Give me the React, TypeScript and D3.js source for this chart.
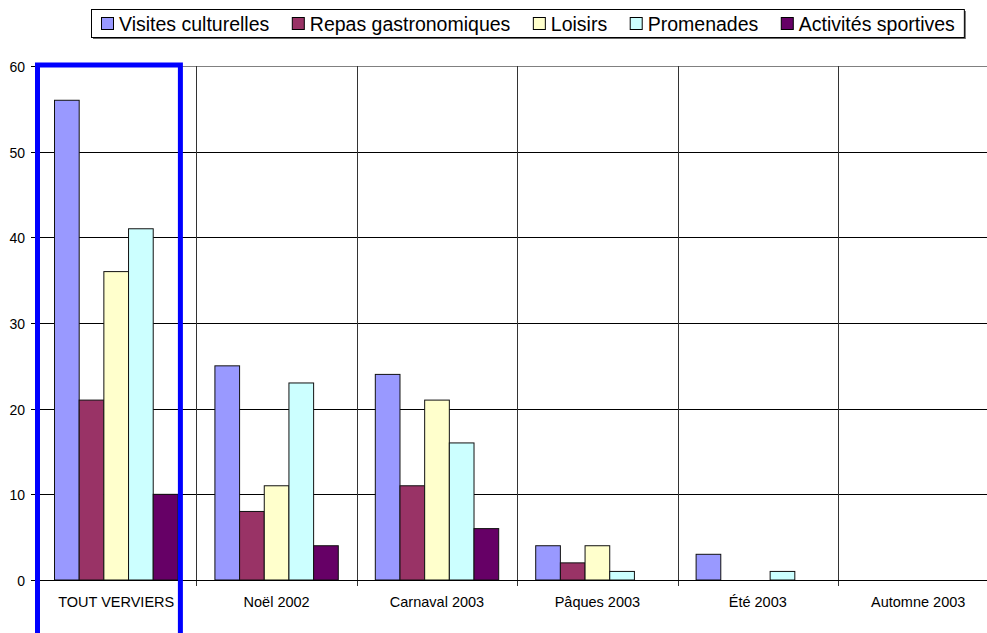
import React, { useEffect, useRef } from "react";
import * as d3 from "d3";

const categories = ["TOUT VERVIERS", "Noël 2002", "Carnaval 2003", "Pâques 2003", "Été 2003", "Automne 2003"];
const seriesNames = ["Visites culturelles", "Repas gastronomiques", "Loisirs", "Promenades", "Activités sportives"];
const visites = [56, 25, 24, 4, 3, 0];
const repas = [21, 8, 11, 2, 0, 0];
const loisirs = [36, 11, 21, 4, 0, 0];
const promenades = [41, 23, 16, 1, 1, 0];
const sportives = [10, 4, 6, 0, 0, 0];
const yTicks = [0, 10, 20, 30, 40, 50, 60];
const colors = ["#9999FF", "#993366", "#FFFFCC", "#CCFFFF", "#660066"];

const W = 987;
const H = 633;

export default function App() {
  const ref = useRef<SVGSVGElement>(null);

  useEffect(() => {
    const svg = d3.select(ref.current);
    svg.selectAll("*").remove();
    const series = [visites, repas, loisirs, promenades, sportives];

    const left = 36;
    const right = 998.4;
    const top = 66;
    const bottom = 580;

    const x = d3.scaleBand<string>().domain(categories).range([left, right]).paddingInner(0).paddingOuter(0);
    const bw = x.bandwidth();
    const barW = bw / (seriesNames.length + 1.5);
    const xInner = d3
      .scaleBand<number>()
      .domain(d3.range(seriesNames.length))
      .range([barW * 0.75, bw - barW * 0.75]);
    const y = d3.scaleLinear().domain([0, 60]).range([bottom, top]);

    const font = "Arial, 'Liberation Sans', Helvetica, sans-serif";

    // horizontal gridlines
    svg
      .append("g")
      .selectAll("line")
      .data(yTicks)
      .join("line")
      .attr("x1", left)
      .attr("x2", right)
      .attr("y1", (d) => Math.round(y(d)) + 0.5)
      .attr("y2", (d) => Math.round(y(d)) + 0.5)
      .attr("stroke", (d) => (d === 60 ? "#808080" : "#000"))
      .attr("stroke-width", 1);

    // vertical category separators
    const bounds = categories.slice(1).map((c) => x(c)!);
    svg
      .append("g")
      .selectAll("line")
      .data(bounds)
      .join("line")
      .attr("x1", (d) => Math.round(d) + 0.5)
      .attr("x2", (d) => Math.round(d) + 0.5)
      .attr("y1", top)
      .attr("y2", bottom + 6)
      .attr("stroke", "#333")
      .attr("stroke-width", 1);

    // bars
    const g = svg.append("g");
    categories.forEach((c, ci) => {
      series.forEach((s, si) => {
        const v = s[ci];
        if (v <= 0) return;
        const bx = x(c)! + xInner(si)!;
        g.append("rect")
          .attr("x", bx)
          .attr("y", y(v))
          .attr("width", xInner.bandwidth())
          .attr("height", y(0) - y(v))
          .attr("fill", colors[si])
          .attr("stroke", "#111")
          .attr("stroke-width", 1);
      });
    });

    // y axis
    svg
      .append("line")
      .attr("x1", left + 0.5)
      .attr("x2", left + 0.5)
      .attr("y1", top)
      .attr("y2", bottom)
      .attr("stroke", "#000");
    const yAxis = svg.append("g");
    yTicks.forEach((t) => {
      const yy = Math.round(y(t)) + 0.5;
      yAxis.append("line").attr("x1", left - 5).attr("x2", left).attr("y1", yy).attr("y2", yy).attr("stroke", "#000");
      yAxis
        .append("text")
        .attr("x", left - 11)
        .attr("y", yy + 5)
        .attr("text-anchor", "end")
        .attr("font-family", font)
        .attr("font-size", 14)
        .attr("fill", "#000")
        .text(String(t));
    });

    // x axis line
    svg
      .append("line")
      .attr("x1", left)
      .attr("x2", right)
      .attr("y1", bottom + 0.5)
      .attr("y2", bottom + 0.5)
      .attr("stroke", "#000");

    // category labels
    svg
      .append("g")
      .selectAll("text")
      .data(categories)
      .join("text")
      .attr("x", (d) => x(d)! + bw / 2)
      .attr("y", 607)
      .attr("text-anchor", "middle")
      .attr("font-family", font)
      .attr("font-size", 14.5)
      .attr("fill", "#000")
      .text((d) => d);

    // highlight rectangle around first category
    const c0 = categories[0];
    const hx0 = x(c0)! + 1.5;
    const hx1 = x(c0)! + xInner(seriesNames.length - 1)! + xInner.bandwidth() + 2.5;
    svg
      .append("path")
      .attr("d", `M${hx0},${H + 10} L${hx0},${top - 1} L${hx1},${top - 1} L${hx1},${H + 10}`)
      .attr("fill", "none")
      .attr("stroke", "#0000FF")
      .attr("stroke-width", 5);

    // legend
    const lg = svg.append("g");
    const lx = 91;
    const ly = 9;
    const lh = 28;
    const shadow = lg.append("rect");
    const box = lg.append("rect");
    const gapAfter = 22.5;
    let cx = lx + 10;
    const items = lg.append("g");
    seriesNames.forEach((name, i) => {
      items
        .append("rect")
        .attr("x", cx + 0.5)
        .attr("y", ly + 8.5)
        .attr("width", 12)
        .attr("height", 12)
        .attr("fill", colors[i])
        .attr("stroke", "#000");
      const t = items
        .append("text")
        .attr("x", cx + 18)
        .attr("y", ly + 21.5)
        .attr("font-family", font)
        .attr("font-size", 19.5)
        .attr("fill", "#000")
        .text(name);
      const tw = (t.node() as SVGTextElement).getComputedTextLength();
      cx = cx + 18 + tw + gapAfter;
    });
    const lw = cx - gapAfter + 9 - lx;
    shadow
      .attr("x", lx + 2)
      .attr("y", ly + 2)
      .attr("width", lw)
      .attr("height", lh)
      .attr("fill", "#666");
    box
      .attr("x", lx + 0.5)
      .attr("y", ly + 0.5)
      .attr("width", lw)
      .attr("height", lh)
      .attr("fill", "#fff")
      .attr("stroke", "#000");
  }, []);

  return (
    <svg
      ref={ref}
      width={W}
      height={H}
      style={{ position: "absolute", left: 0, top: 0, background: "#fff", overflow: "hidden" }}
    />
  );
}
